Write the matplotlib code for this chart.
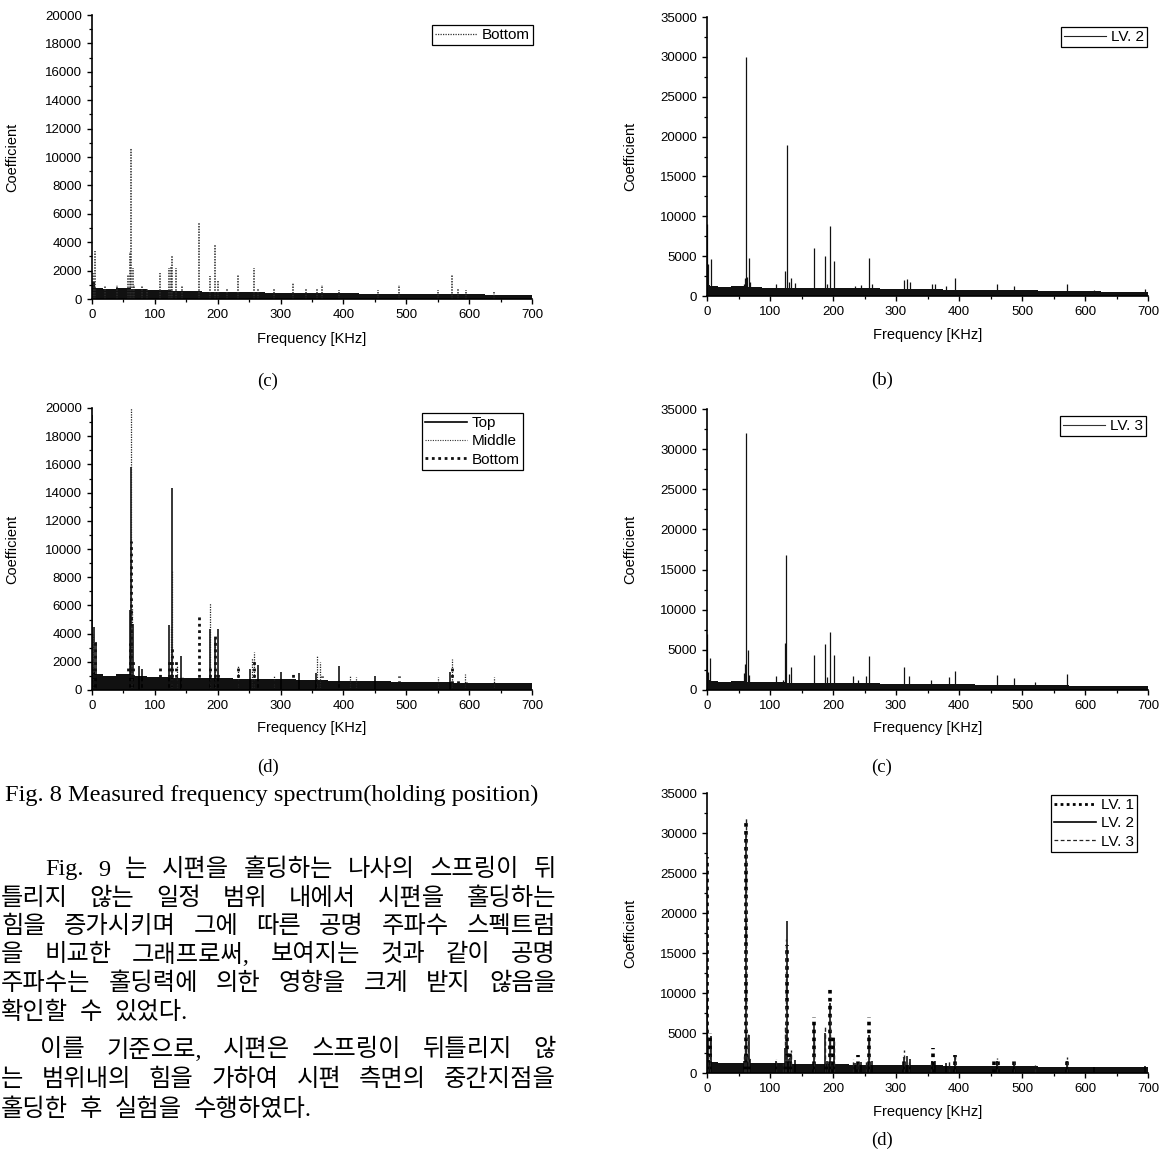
import numpy as np
import matplotlib
matplotlib.use("Agg")
import matplotlib.pyplot as plt
from matplotlib.ticker import MultipleLocator
from matplotlib.lines import Line2D

W, H = 1174, 1160

# frequency grid (kHz) where the noise floor level was read
floor_freq = [0, 10, 25, 50, 75, 100, 150, 200, 250, 300, 350, 400, 450, 500, 550, 600, 650, 700]

# holding position: Bottom / Top / Middle
bottom_floor = [1200, 800, 700, 800, 700, 600, 550, 500, 480, 450, 420, 400, 380, 360, 340, 320, 300, 300]
bottom_pk_f = [1, 3, 5, 20, 40, 57, 60, 62, 65, 67, 80, 88, 108, 122, 125, 128, 133, 143, 170, 188, 195, 201,
               215, 232, 258, 264, 290, 320, 340, 358, 366, 393, 455, 488, 550, 573, 583, 595, 640]
bottom_pk_h = [1800, 1200, 3400, 900, 1000, 1700, 3300, 10600, 2200, 1000, 900, 800, 1800, 2200, 2300, 3100,
               2200, 900, 5400, 1600, 3800, 1300, 800, 1700, 2200, 800, 700, 1100, 700, 800, 1000, 600, 600,
               1000, 600, 1700, 800, 600, 500]

top_floor = [1300, 1100, 1000, 1100, 1000, 900, 850, 850, 800, 750, 700, 650, 620, 600, 560, 520, 500, 480]
top_pk_f = [0.5, 3, 6, 60, 62, 65, 75, 80, 123, 127, 141, 188, 195, 201, 252, 264, 300, 330, 357, 393, 450, 570]
top_pk_h = [19500, 4500, 3400, 5700, 15800, 4700, 1700, 1500, 4600, 14300, 2400, 4300, 3600, 4300,
            1500, 1800, 1300, 1200, 1200, 1700, 1000, 1300]

mid_floor = [1000, 900, 800, 850, 800, 750, 700, 680, 650, 600, 560, 530, 500, 480, 450, 420, 400, 380]
mid_pk_f = [1, 62, 64, 125, 127, 136, 188, 195, 233, 255, 257, 290, 358, 363, 410, 420, 550, 572, 593, 640]
mid_pk_h = [4000, 20000, 5800, 4500, 8500, 1800, 6200, 3700, 1700, 2300, 2700, 1000, 2400, 2000,
            1000, 900, 900, 2200, 1100, 900]

# holding force: LV. 1 / LV. 2 / LV. 3
lv1_floor = [1600, 1400, 1300, 1300, 1300, 1200, 1150, 1100, 1050, 1000, 950, 900, 850, 820, 780, 750, 720, 700]
lv1_pk_f = [0.5, 4, 62, 127, 132, 170, 195, 200, 240, 257, 312, 358, 393, 455, 462, 487, 572]
lv1_pk_h = [27000, 5000, 31800, 16000, 2800, 7000, 10500, 4500, 2300, 7000, 2000, 3100, 2300,
            1800, 1800, 1800, 1800]

lv2_floor = [1400, 1200, 1100, 1200, 1100, 1050, 1000, 1000, 950, 900, 850, 800, 750, 700, 650, 600, 560, 550]
lv2_pk_f = [0.5, 2, 6, 58, 60, 62, 64, 66, 68, 110, 124, 127, 130, 133, 140, 170, 188, 191, 195, 201,
            235, 244, 257, 262, 312, 318, 322, 357, 362, 380, 393, 460, 487, 572, 615, 695]
lv2_pk_h = [9000, 4000, 4600, 1500, 2300, 30000, 2400, 4800, 1700, 1500, 3100, 19000, 1800, 2200, 1600,
            6000, 5000, 1500, 8800, 4400, 1300, 1400, 4800, 1500, 2000, 2100, 1800, 1500, 1500, 1300,
            2300, 1500, 1300, 1500, 800, 900]

lv3_floor = [1300, 1100, 1000, 1100, 1000, 950, 900, 900, 850, 800, 750, 700, 650, 620, 580, 550, 500, 480]
lv3_pk_f = [0.5, 2, 5, 58, 60, 62, 65, 67, 109, 120, 124, 126, 130, 134, 170, 188, 190, 195, 201,
            232, 240, 252, 257, 312, 320, 355, 384, 393, 460, 487, 520, 572]
lv3_pk_h = [7000, 2300, 4000, 2100, 3200, 32000, 5000, 1900, 1800, 1300, 5800, 16800, 2000, 2900,
            4400, 5700, 1600, 7200, 4400, 1700, 1300, 1800, 4200, 2900, 1800, 1200, 1600, 2400,
            1900, 1500, 1000, 2000]

fig_caption = "Fig. 8 Measured frequency spectrum(holding position)"
body_lines = [
    "Fig. 9 는 시편을 홀딩하는 나사의 스프링이 뒤",
    "틀리지 않는 일정 범위 내에서 시편을 홀딩하는",
    "힘을 증가시키며 그에 따른 공명 주파수 스펙트럼",
    "을 비교한 그래프로써, 보여지는 것과 같이 공명",
    "주파수는 홀딩력에 의한 영향을 크게 받지 않음을",
    "확인할 수 있었다.",
    "이를 기준으로, 시편은 스프링이 뒤틀리지 않",
    "는 범위내의 힘을 가하여 시편 측면의 중간지점을",
    "홀딩한 후 실험을 수행하였다.",
]

plt.rcParams['font.family'] = ['Liberation Sans', 'DejaVu Sans']

fig = plt.figure(figsize=(W / 100, H / 100), dpi=100)


def px_axes(x0, x1, ytop, ybot):
    return fig.add_axes([x0 / W, 1 - ybot / H, (x1 - x0) / W, (ybot - ytop) / H])


def draw_series(ax, floor, pk_f, pk_h, color, ls, lw):
    ax.fill_between(floor_freq, 0, floor, step='mid', color='#111111', lw=0, zorder=1)
    ax.vlines(pk_f, 0, pk_h, colors=color, linestyles=ls, lw=lw, zorder=2)


def style_axes(ax, ymax, ystep, x0, x1, ytop, ybot, ylab_x, xlab_y):
    ax.set_xlim(0, 700)
    ax.set_ylim(0, ymax)
    ax.xaxis.set_major_locator(MultipleLocator(100))
    ax.xaxis.set_minor_locator(MultipleLocator(50))
    ax.yaxis.set_major_locator(MultipleLocator(ystep))
    ax.yaxis.set_minor_locator(MultipleLocator(ystep / 2))
    for s in ['top', 'right']:
        ax.spines[s].set_visible(False)
    for s in ['left', 'bottom']:
        ax.spines[s].set_linewidth(1.2)
    ax.tick_params(which='major', direction='out', length=3.6, width=1.0, pad=3.5, labelsize=9.5)
    ax.tick_params(which='minor', direction='out', length=2.2, width=0.9)
    ax.set_xlabel('Frequency [KHz]', fontsize=10.5, va='center')
    ax.set_ylabel('Coefficient', fontsize=10.5, va='center')
    ax.yaxis.set_label_coords((ylab_x - x0) / (x1 - x0), 0.5)
    ax.xaxis.set_label_coords(0.5, (ybot - xlab_y) / (ybot - ytop))


def add_legend(ax, handles, right, top, x0, x1, ytop, ybot, spacing=0.05):
    leg = ax.legend(handles=handles, loc='upper right',
                    bbox_to_anchor=((right - x0) / (x1 - x0), (ybot - top) / (ybot - ytop)),
                    borderaxespad=0, fontsize=11, frameon=True, fancybox=False, framealpha=1,
                    edgecolor='black', borderpad=0.2, labelspacing=spacing, handlelength=2.8,
                    handletextpad=0.3)
    leg.get_frame().set_linewidth(0.9)


# panel (c) top-left: Bottom
box = (92, 532, 15, 299)
ax1 = px_axes(*box)
draw_series(ax1, bottom_floor, bottom_pk_f, bottom_pk_h, '#2a2a2a', (0, (1, 0.8)), 1.1)
style_axes(ax1, 20000, 2000, *box, ylab_x=12, xlab_y=339)
add_legend(ax1, [Line2D([], [], color='#333333', ls=(0, (1, 1)), lw=0.9, label='Bottom')], 533, 25, *box)

# panel (b) top-right: LV. 2
box = (707, 1148, 17, 296)
ax2 = px_axes(*box)
draw_series(ax2, lv2_floor, lv2_pk_f, lv2_pk_h, '#111111', '-', 0.9)
style_axes(ax2, 35000, 5000, *box, ylab_x=630, xlab_y=335)
add_legend(ax2, [Line2D([], [], color='#222222', ls='-', lw=0.8, label='LV. 2')], 1147, 27, *box)

# panel (d) middle-left: Top / Middle / Bottom
box = (92, 532, 408, 690)
ax3 = px_axes(*box)
draw_series(ax3, top_floor, top_pk_f, top_pk_h, 'black', '-', 1.1)
draw_series(ax3, mid_floor, mid_pk_f, mid_pk_h, '#222222', (0, (1, 1.0)), 0.9)
draw_series(ax3, bottom_floor, bottom_pk_f, bottom_pk_h, '#111111', (0, (1, 1.3)), 2.0)
style_axes(ax3, 20000, 2000, *box, ylab_x=12, xlab_y=728)
add_legend(ax3, [Line2D([], [], color='black', ls='-', lw=1.2, label='Top'),
                 Line2D([], [], color='#333333', ls=(0, (1, 1.2)), lw=0.8, label='Middle'),
                 Line2D([], [], color='#111111', ls=(0, (1, 1.3)), lw=2.0, label='Bottom')],
           523, 413, *box, spacing=0.28)

# panel (c) middle-right: LV. 3
box = (707, 1148, 409, 690)
ax4 = px_axes(*box)
draw_series(ax4, lv3_floor, lv3_pk_f, lv3_pk_h, '#111111', '-', 0.9)
style_axes(ax4, 35000, 5000, *box, ylab_x=630, xlab_y=728)
add_legend(ax4, [Line2D([], [], color='#333333', ls='-', lw=0.8, label='LV. 3')], 1146, 416, *box)

# panel (d) bottom-right: LV. 1 / 2 / 3
box = (707, 1148, 793, 1073)
ax5 = px_axes(*box)
draw_series(ax5, lv1_floor, lv1_pk_f, lv1_pk_h, 'black', (0, (1, 1.2)), 2.6)
draw_series(ax5, lv2_floor, lv2_pk_f, lv2_pk_h, 'black', '-', 1.1)
draw_series(ax5, lv3_floor, lv3_pk_f, lv3_pk_h, '#222222', (0, (3, 2)), 1.0)
style_axes(ax5, 35000, 5000, *box, ylab_x=630, xlab_y=1112)
add_legend(ax5, [Line2D([], [], color='black', ls=(0, (1, 1.2)), lw=2.0, label='LV. 1'),
                 Line2D([], [], color='black', ls='-', lw=1.2, label='LV. 2'),
                 Line2D([], [], color='#222222', ls=(0, (3, 2)), lw=0.9, label='LV. 3')],
           1137, 795, *box, spacing=0.28)

# sub-figure captions
serif = ['Liberation Serif', 'DejaVu Serif']
for label, x, y in [('(c)', 268, 381), ('(b)', 882, 380), ('(d)', 268, 767),
                    ('(c)', 882, 767), ('(d)', 882, 1140)]:
    fig.text(x / W, 1 - y / H, label, family=serif, fontsize=13.5, ha='center', va='center')

renderer = fig.canvas.get_renderer()

# figure caption, sized to the printed width
cap = fig.text(5 / W, 1 - 795 / H, fig_caption, family=serif, fontsize=14, ha='left', va='center')
cw = cap.get_window_extent(renderer).width
cap.set_fontsize(14 * 536 / cw)

# Korean body text, justified like the printed column
kfam = ['Liberation Serif', 'Noto Sans CJK KR']
line_y = [870, 899, 927, 955, 984, 1013, 1050, 1080, 1110]
line_left = [45, 1, 1, 1, 1, 1, 40, 1, 1]
line_just = [True, True, True, True, True, False, True, True, False]
right_edge = 556
for txt, y, left, just in zip(body_lines, line_y, line_left, line_just):
    words = txt.split(' ')
    objs = [fig.text(0, 1 - y / H, w, family=kfam, fontsize=17.5, ha='left', va='center') for w in words]
    widths = [o.get_window_extent(renderer).width for o in objs]
    if just:
        gap = (right_edge - left - sum(widths)) / (len(words) - 1)
    else:
        gap = 12
    x = left
    for o, w in zip(objs, widths):
        o.set_x(x / W)
        x += w + gap

fig.savefig('out.png', dpi=100)
